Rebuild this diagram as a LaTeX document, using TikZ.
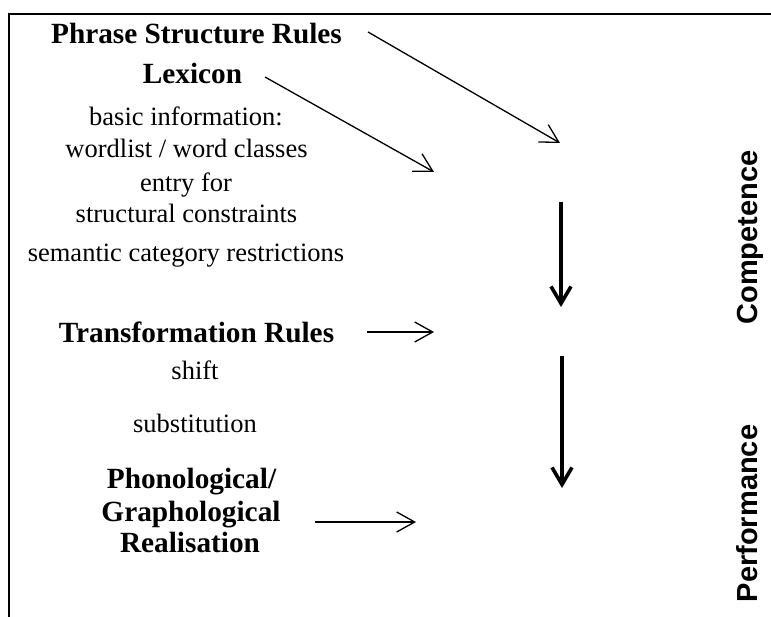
\documentclass[tikz,border=0pt]{standalone}
\usepackage{fontspec}
\setmainfont{Liberation Serif}
\setsansfont{Liberation Sans}
\usetikzlibrary{arrows.meta}

\begin{document}
\begin{tikzpicture}[x=1pt,y=-1pt,
  heading/.style={font=\bfseries\fontsize{29.3}{33}\selectfont, inner sep=0pt, anchor=base},
  detail/.style={font=\fontsize{26.5}{30}\selectfont, inner sep=0pt, anchor=base},
  level/.style={font=\sffamily\bfseries\fontsize{29}{33}\selectfont, inner sep=0pt, rotate=90, anchor=base},
  feed/.style={line width=1.3pt, -{Straight Barb[length=18pt,width=20pt]}},
  flow/.style={line width=3.6pt, -{Straight Barb[length=17pt,width=20pt]}}]
\useasboundingbox (0,0) rectangle (771,617);

% open frame: left and top edges only
\draw[line width=1.5pt] (9,617) -- (9,14) -- (771,14);

% components of the grammar
\node[heading] (psr) at (196.5,43.5) {Phrase Structure Rules};
\node[heading] (lex) at (192.5,83.5) {Lexicon};
\node[detail] (basic) at (186,126) {basic information:};
\node[detail] (words) at (186.5,158) {wordlist / word classes};
\node[detail] (entry) at (186,192) {entry for};
\node[detail] (struct) at (186.5,223) {structural constraints};
\node[detail] (sem) at (186,262) {semantic category restrictions};
\node[heading] (trans) at (196.5,343) {Transformation Rules};
\node[detail] (shift) at (195,380) {shift};
\node[detail] (subst) at (195,432) {substitution};
\node[heading] (phon) at (191.5,488) {Phonological/};
\node[heading] (graph) at (191,521) {Graphological};
\node[heading] (real) at (190,552) {Realisation};

% levels
\node[level] (comp) at (757,237.5) {Competence};
\node[level] (perf) at (757,513.5) {Performance};

% arrow end points
\coordinate (psrS) at (368,32);
\coordinate (psrE) at (560,143);
\coordinate (lexS) at (265,77);
\coordinate (lexE) at (434,172);
\coordinate (transS) at (367,332);
\coordinate (transE) at (434,332);
\coordinate (phonS) at (315,522);
\coordinate (phonE) at (416,522);
\coordinate (d1S) at (561,202);
\coordinate (d1E) at (561,307);
\coordinate (d2S) at (562,356);
\coordinate (d2E) at (562,488);

\draw[feed] (psrS) -- (psrE);
\draw[feed] (lexS) -- (lexE);
\draw[feed] (transS) -- (transE);
\draw[feed] (phonS) -- (phonE);
\draw[flow] (d1S) -- (d1E);
\draw[flow] (d2S) -- (d2E);
\end{tikzpicture}
\end{document}
